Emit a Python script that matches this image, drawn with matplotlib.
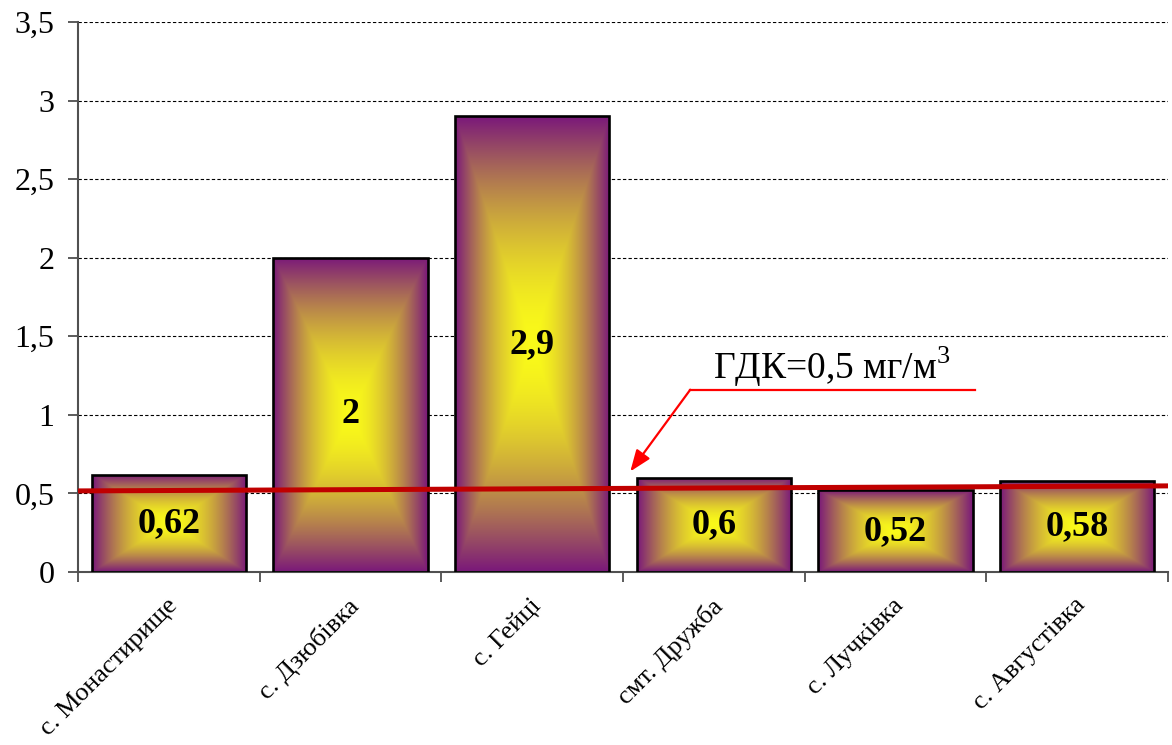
import numpy as np
import matplotlib
matplotlib.use("Agg")
import matplotlib.pyplot as plt
from matplotlib.ticker import FixedLocator, FuncFormatter
import matplotlib.transforms as mtransforms

# data
places = ['с. Монастирище', 'с. Дзюбівка', 'с. Гейці',
          'смт. Дружба', 'с. Лучківка', 'с. Августівка']
values = [0.62, 2, 2.9, 0.6, 0.52, 0.58]
value_labels = ['0,62', '2', '2,9', '0,6', '0,52', '0,58']
gdk_line = [0.516, 0.548]      # red limit line, left end / right end
gdk_text = 'ГДК=0,5 мг/м$^{3}$'

plt.rcParams['font.family'] = 'Liberation Serif'
plt.rcParams['mathtext.fontset'] = 'custom'
plt.rcParams['mathtext.rm'] = 'Liberation Serif'

fig = plt.figure(figsize=(11.72, 7.45), dpi=100)
ax = fig.add_axes([0.0666, 0.2322, 0.93, 0.7383])

x = np.arange(len(values))
bars = ax.bar(x, values, width=0.85, facecolor='none', edgecolor='black',
              linewidth=1.9, zorder=3)

# rectangular gradient fill: yellow centre -> purple edges
yellow = np.array([250, 250, 25]) / 255.0
purple = np.array([122, 24, 122]) / 255.0
for b in bars:
    x0, y0 = b.get_x(), b.get_y()
    w, h = b.get_width(), b.get_height()
    u = np.abs(np.linspace(-1, 1, 200))
    v = np.abs(np.linspace(-1, 1, 400))
    t = np.maximum(u[None, :], v[:, None]) ** 1.7
    img = yellow[None, None, :] * (1 - t[..., None]) + purple[None, None, :] * t[..., None]
    im = ax.imshow(img, extent=(x0, x0 + w, y0, y0 + h), aspect='auto',
                   origin='lower', zorder=2, interpolation='bilinear')
    im.set_clip_path(b)

for xi, val, lab in zip(x, values, value_labels):
    ax.text(xi, val / 2, lab, ha='center', va='center', fontsize=26,
            fontweight='bold', zorder=5)

# limit line
ax.plot([-0.5, len(values) - 0.5], gdk_line, color='#C00000', lw=3.6, zorder=4)

# annotation with leader line
ax.plot([4.44, 2.87], [1.16, 1.16], color='#FF0000', lw=1.6, zorder=4)
ax.annotate('', xy=(2.54, 0.64), xytext=(2.87, 1.16),
            arrowprops=dict(arrowstyle='-|>,head_length=1.3,head_width=0.5',
                            color='#FF0000', lw=1.6, shrinkA=0, shrinkB=0),
            zorder=4)
ax.text(2.995, 1.225, gdk_text, fontsize=27, ha='left', va='baseline')

ax.set_xlim(-0.5, len(values) - 0.5)
ax.set_ylim(0, 3.5)

ax.set_yticks(np.arange(0, 3.51, 0.5))
ax.yaxis.set_major_formatter(FuncFormatter(lambda v, p: ('%g' % v).replace('.', ',')))
ax.yaxis.grid(True, color='black', linestyle=(0, (3, 2)), lw=0.8)
ax.set_axisbelow(True)

ax.set_xticks(x)
ax.set_xticklabels(places, rotation=45, ha='right', rotation_mode='anchor',
                   fontsize=19)
ax.xaxis.set_minor_locator(FixedLocator(np.arange(-0.5, len(values), 1.0)))
ax.tick_params(axis='x', which='major', length=0, pad=16)
ax.tick_params(axis='x', which='minor', length=7, width=1.2, color='#404040')
ax.tick_params(axis='y', length=7, width=1.2, color='#404040', pad=10,
               labelsize=23)
offset = mtransforms.ScaledTranslation(-0.03, 0, fig.dpi_scale_trans)
for lbl in ax.get_xticklabels():
    lbl.set_transform(lbl.get_transform() + offset)

for s in ['top', 'right']:
    ax.spines[s].set_visible(False)
for s in ['left', 'bottom']:
    ax.spines[s].set_color('#505050')
    ax.spines[s].set_linewidth(1.5)

fig.savefig('out.png', dpi=100)
